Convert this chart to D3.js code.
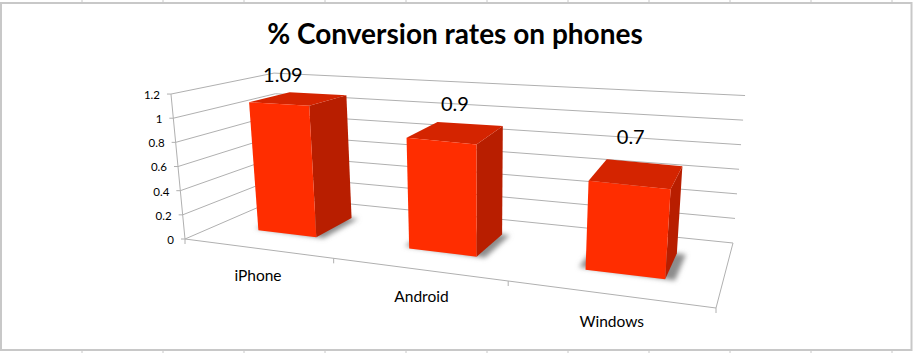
<!DOCTYPE html>
<html><head><meta charset="utf-8">
<script src="https://cdn.jsdelivr.net/npm/d3@7"></script>
<style>html,body{margin:0;padding:0;background:#fff}svg{display:block}text{font-family:Lato,"Open Sans",sans-serif;fill:#000}</style>
</head><body><div id="c"></div>
<script>
const title = "% Conversion rates on phones";
const categories = ["iPhone", "Android", "Windows"];
const values = [1.09, 0.9, 0.7];
const valueLabels = ["1.09", "0.9", "0.7"];
const yTicks = [0, 0.2, 0.4, 0.6, 0.8, 1, 1.2];
const yTickLabels = ["0", "0.2", "0.4", "0.6", "0.8", "1", "1.2"];

const W = 913, H = 353;
const svg = d3.select("#c").append("svg").attr("width", W).attr("height", H);

// Projection: perspective floor plane, verticals converging to a vanishing point below
function homography(p) {
  const [[x0,y0],[x1,y1],[x2,y2],[x3,y3]] = p;
  const dx1=x1-x2, dx2=x3-x2, sx=x0-x1+x2-x3, dy1=y1-y2, dy2=y3-y2, sy=y0-y1+y2-y3;
  const det=dx1*dy2-dx2*dy1, g=(sx*dy2-dx2*sy)/det, h=(dx1*sy-sx*dy1)/det;
  const a=x1-x0+g*x1, b=x3-x0+h*x3, d=y1-y0+g*y1, e=y3-y0+h*y3;
  return (u,v)=>{const w=1+g*u+h*v;return [(a*u+b*v+x0)/w,(d*u+e*v+y0)/w,w];};
}
const floor = homography([[185,239],[716,308],[733,243],[282,197]]);
const VP = [482,3310], kTop = 0.0472;
const hScale = d3.scaleLinear().domain([0,1.2]).range([0,kTop]);
function P(u,v,val){
  const [x,y,w]=floor(u,v), ww = w>=1 ? w : 1+(w-1)*0.5, k=hScale(val)/ww;
  return [x+(x-VP[0])*k, y+(y-VP[1])*k];
}
const line = d3.line();
const poly = pts => line(pts)+"Z";

const uScale = d3.scaleBand().domain(categories).range([0.002,1.01]).paddingInner(0.598).paddingOuter(0.299);
const v0 = 0.29, v1 = 0.71;

// Frame with spreadsheet cell ticks behind the chart
const frameCol = "#c8c8c8";
const cellX = d3.range(82, W, 81);
const g0 = svg.append("g").attr("stroke", frameCol).attr("fill","none");
g0.selectAll("line.t").data(cellX).join("line").attr("x1",d=>d).attr("x2",d=>d).attr("y1",0).attr("y2",3);
g0.selectAll("line.b").data(cellX).join("line").attr("x1",d=>d).attr("x2",d=>d).attr("y1",350).attr("y2",H);
svg.append("rect").attr("x",1).attr("y",3).attr("width",910.5).attr("height",347)
  .attr("fill","#fff").attr("stroke",frameCol).attr("stroke-width",2);

// Grid
const gridCol = "#b0b0b0";
const grid = svg.append("g").attr("fill","none").attr("stroke",gridCol).attr("stroke-width",1);
grid.selectAll("path.g").data(yTicks).join("path")
  .attr("d",t=>line([P(0,0,t),P(0,1,t),P(1,1,t)]));
grid.append("path").attr("d",line([P(0,0,0),P(0,0,1.2)]));
grid.append("path").attr("d",line([P(0,0,0),P(1,0,0),P(1,1,0)]));
grid.selectAll("path.yt").data(yTicks).join("path")
  .attr("d",t=>{const p=P(0,0,t);return line([[p[0]-4,p[1]],p]);});
grid.selectAll("path.xt").data([0,1/3,2/3,1]).join("path")
  .attr("d",u=>{const p=P(u,0,0);return line([p,[p[0],p[1]+5]]);});

// Y labels
svg.append("g").selectAll("text").data(yTicks).join("text")
  .attr("x",t=>P(0,0,t)[0]-11).attr("y",t=>P(0,0,t)[1]+2)
  .attr("text-anchor","end").attr("dominant-baseline","middle")
  .attr("font-size",11.5).text((t,i)=>yTickLabels[i]);

// Shadows
const defs = svg.append("defs");
defs.append("filter").attr("id","blur").attr("x","-30%").attr("y","-30%").attr("width","160%").attr("height","160%")
  .append("feGaussianBlur").attr("stdDeviation",2.5);
svg.append("g").selectAll("path").data(categories).join("path")
  .attr("filter","url(#blur)").attr("fill","#8c8c8c")
  .attr("d",c=>{const a=uScale(c)-0.014,b=uScale(c)+uScale.bandwidth()+0.016;
    return poly([P(a,v0+0.03,0),P(b,v0,0),P(b,v1,0),P(a,v1,0)]);});

// Bars
const bars = svg.append("g").selectAll("g").data(categories).join("g");
const topFill="#d42400", sideFill="#b81e00", frontFill="#ff2d00";
bars.append("path").attr("fill",sideFill).attr("d",(c,i)=>{const a=uScale(c)+uScale.bandwidth();
  return poly([P(a,v0,0),P(a,v1,0),P(a,v1,values[i]),P(a,v0,values[i])]);});
bars.append("path").attr("fill",topFill).attr("d",(c,i)=>{const a=uScale(c),b=a+uScale.bandwidth();
  return poly([P(a,v0,values[i]),P(b,v0,values[i]),P(b,v1,values[i]),P(a,v1,values[i])]);});
bars.append("path").attr("fill",frontFill).attr("d",(c,i)=>{const a=uScale(c),b=a+uScale.bandwidth();
  return poly([P(a,v0,0),P(b,v0,0),P(b,v0,values[i]),P(a,v0,values[i])]);});

// Value labels (nudged above the bar tops)
const labelNudge = [[-16,-22],[-1,-26],[-6,-34]];
svg.append("g").selectAll("text").data(categories).join("text")
  .attr("x",(c,i)=>P(uScale(c)+uScale.bandwidth()/2,(v0+v1)/2,values[i])[0]+labelNudge[i][0])
  .attr("y",(c,i)=>P(uScale(c)+uScale.bandwidth()/2,(v0+v1)/2,values[i])[1]+labelNudge[i][1])
  .attr("text-anchor","middle").attr("dominant-baseline","middle").attr("font-size",20)
  .text((c,i)=>valueLabels[i]);

// Category labels
const catNudge = [[0,29],[1,28],[-1,28]];
svg.append("g").selectAll("text").data(categories).join("text")
  .attr("x",(c,i)=>P(uScale(c)+uScale.bandwidth()/2,0,0)[0]+catNudge[i][0])
  .attr("y",(c,i)=>P(uScale(c)+uScale.bandwidth()/2,0,0)[1]+catNudge[i][1])
  .attr("text-anchor","middle").attr("dominant-baseline","middle").attr("font-size",15.5)
  .text(c=>c);

svg.append("text").attr("x",455).attr("y",37).attr("text-anchor","middle").attr("dominant-baseline","middle")
  .attr("font-size",28).attr("font-weight",700).text(title);
</script></body></html>
